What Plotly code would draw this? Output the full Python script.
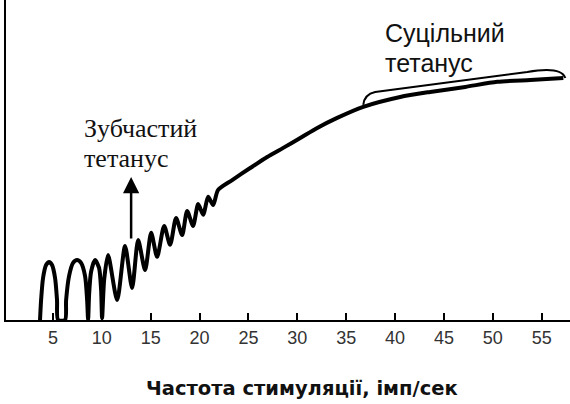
import plotly.graph_objects as go

# Frequency of stimulation (imp/s) and relative force (a.u.)
freq = [3.68, 3.79, 3.99, 4.30, 4.61, 4.91, 5.22, 5.42, 5.53,
        6.24, 6.35, 6.65, 7.06, 7.47, 7.88, 8.29, 8.50, 8.60,
        8.70, 8.90, 9.31, 9.72, 9.93, 10.03,
        10.24, 10.64, 11.57,
        12.38, 13.10,
        13.72, 14.43,
        15.05, 15.66,
        16.38, 16.99,
        17.60, 18.22,
        18.73, 19.34,
        19.86, 20.37,
        20.88, 21.39,
        21.90,
        23.34, 25.18, 26.92, 28.56, 30.30, 32.04, 34.08,
        36.75, 40.53, 43.60, 47.19, 50.46, 53.84, 57.22]
force = [0.0, 8.3, 17.5, 22.9, 24.2, 22.9, 17.5, 8.3, 0.0,
         0.0, 8.3, 18.3, 23.8, 25.0, 23.8, 18.3, 8.3, 0.0,
         10.4, 20.0, 25.0, 21.7, 12.5, 0.8,
         16.7, 27.1, 8.3,
         30.8, 13.3,
         33.3, 20.8,
         36.3, 26.3,
         39.2, 31.3,
         42.5, 35.4,
         45.4, 39.2,
         48.3, 43.8,
         51.3, 47.9,
         54.2,
         58.3, 63.3, 67.9, 71.7, 75.8, 80.0, 84.2,
         88.8, 92.9, 95.0, 97.1, 99.2, 100.0, 100.8]

tick_vals = [5, 10, 15, 20, 25, 30, 35, 40, 45, 50, 55]
tick_text = [str(v) for v in tick_vals]

x_title = "Частота стимуляції, імп/сек"
toothed_lines = ["Зубчастий", "тетанус"]
smooth_lines = ["Суцільний", "тетанус"]

fig = go.Figure()
fig.add_trace(go.Scatter(
    x=freq, y=force, mode="lines",
    line=dict(color="black", width=4, shape="spline", smoothing=0.7),
    hoverinfo="skip", showlegend=False,
))

# brace over the smooth tetanus region
fig.add_shape(type="path",
              path="M 36.75,89.6 Q 36.85,94 37.97,95 L 53.53,103.3 Q 57.0,105.8 57.42,100.8",
              xref="x", yref="y", line=dict(color="black", width=2))

fig.add_annotation(x=13.0, y=59.6, ax=13.0, ay=33.3, xref="x", yref="y",
                   axref="x", ayref="y", text="", showarrow=True,
                   arrowhead=2, arrowsize=1.3, arrowwidth=2.5, arrowcolor="black")

for txt, yy in zip(toothed_lines, [79.6, 67.1]):
    fig.add_annotation(x=7.98, y=yy, xref="x", yref="y", text=txt,
                       showarrow=False, xanchor="left", yanchor="middle",
                       font=dict(family="Liberation Serif", size=26, color="#111"))
for txt, yy in zip(smooth_lines, [119.6, 107.1]):
    fig.add_annotation(x=38.79, y=yy, xref="x", yref="y", text=txt,
                       showarrow=False, xanchor="left", yanchor="middle",
                       font=dict(family="Liberation Sans", size=25, color="#111"))

fig.add_annotation(x=0.524, y=-0.2125, xref="paper", yref="paper", text=x_title,
                   showarrow=False, xanchor="center", yanchor="middle",
                   font=dict(family="DejaVu Sans", size=19.5, color="#111", weight="bold"))

fig.update_xaxes(range=[0.2, 57.9], tickvals=tick_vals, ticktext=tick_text,
                 ticks="inside", ticklen=7, tickwidth=2, tickcolor="black",
                 showline=True, linecolor="black", linewidth=2,
                 showgrid=False, zeroline=False,
                 tickfont=dict(family="Liberation Sans", size=18, color="#333"))
fig.update_yaxes(range=[0, 133.3], showticklabels=False, ticks="",
                 showline=True, linecolor="black", linewidth=2,
                 showgrid=False, zeroline=False)

fig.update_layout(width=570, height=404, margin=dict(l=6, r=0, t=0, b=84),
                  plot_bgcolor="white", paper_bgcolor="white")

fig.write_html("out.html", config={"displayModeBar": False},
               post_script="document.body.style.margin='0';")
